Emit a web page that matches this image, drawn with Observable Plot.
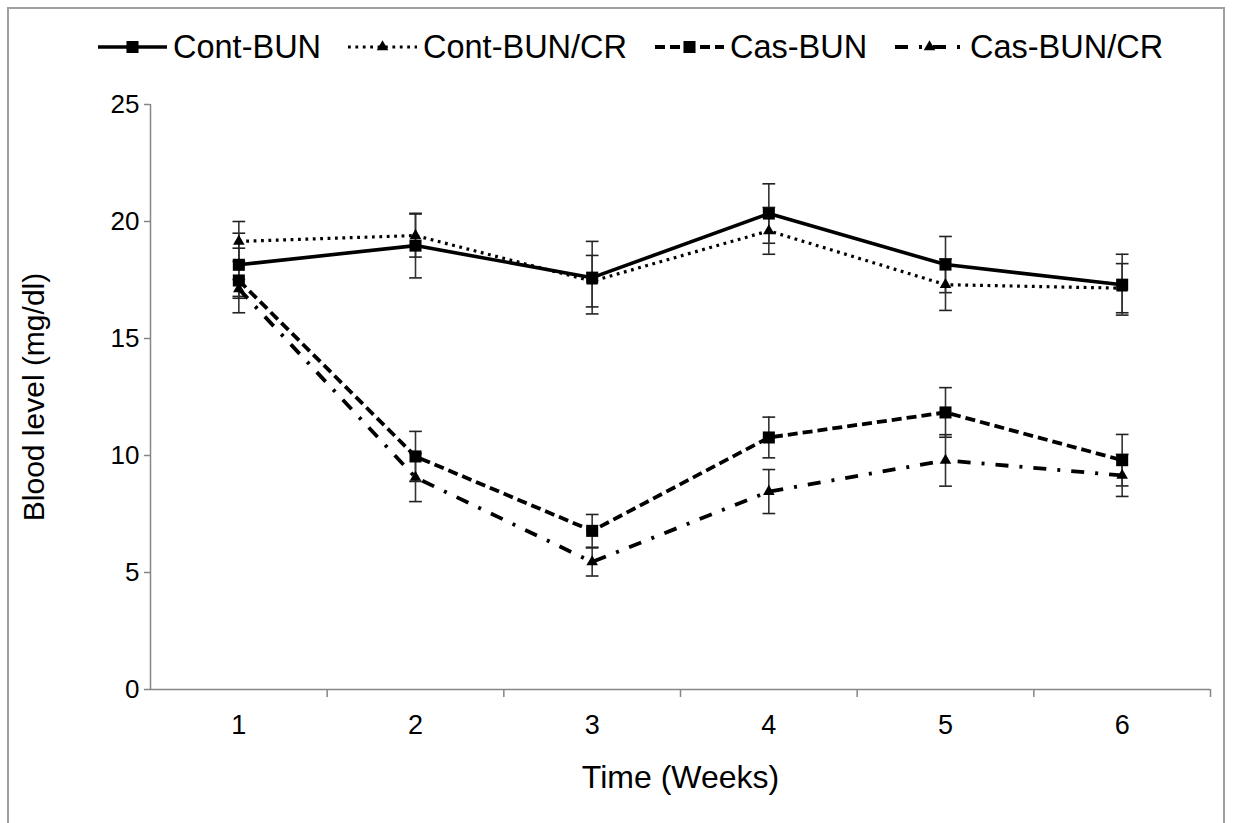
<!DOCTYPE html>
<html>
<head>
<meta charset="utf-8">
<script src="https://cdn.jsdelivr.net/npm/d3@7"></script>
<script src="https://cdn.jsdelivr.net/npm/@observablehq/plot@0.6"></script>
<style>
  html, body { margin: 0; padding: 0; background: #fff; }
  #page { position: relative; width: 1233px; height: 823px; overflow: hidden; font-family: "Liberation Sans", Arial, sans-serif; color: #000; }
  #border { position: absolute; left: 7px; top: 7px; width: 1218px; height: 840px; border: 2px solid #a0a0a0; box-sizing: border-box; }
  #legend { position: absolute; left: 0; top: 0; width: 1233px; height: 80px; }
  .item { position: absolute; top: 27px; height: 40px; display: flex; align-items: center; font-size: 32.5px; white-space: nowrap; }
  .item svg { margin-right: 6px; }
  #chart { position: absolute; left: 0; top: 75px; }
</style>
</head>
<body>
<div id="page">
  <div id="border"></div>
  <div id="legend"></div>
  <div id="chart"></div>
</div>
<script>
// Weekly blood measurements (mean ± error) for the four groups
const weeks = [1, 2, 3, 4, 5, 6];
const seriesNames = ["Cont-BUN", "Cont-BUN/CR", "Cas-BUN", "Cas-BUN/CR"];
const contBun = [18.15, 18.97, 17.6, 20.34, 18.16, 17.3];
const contBunErr = [1.35, 1.38, 1.55, 1.27, 1.2, 1.3];
const contBunCr = [19.15, 19.4, 17.45, 19.6, 17.3, 17.15];
const contBunCrErr = [0.85, 0.92, 1.1, 1.0, 1.1, 1.05];
const casBun = [17.48, 9.96, 6.78, 10.77, 11.84, 9.8];
const casBunErr = [1.38, 1.07, 0.7, 0.87, 1.06, 1.1];
const casBunCr = [17.12, 9.06, 5.45, 8.46, 9.79, 9.15];
const casBunCrErr = [0.4, 1.03, 0.6, 0.94, 1.1, 0.9];
const yTicks = [0, 5, 10, 15, 20, 25];

// Line style and marker per group
const styles = {
  "Cont-BUN":    {dash: null,           symbol: "square",   r: 6.8, width: 3.6},
  "Cont-BUN/CR": {dash: "2.8,4.6",      symbol: "triangle", r: 4.3, width: 3.2},
  "Cas-BUN":     {dash: "10,5",         symbol: "square",   r: 6.8, width: 3.8},
  "Cas-BUN/CR":  {dash: "13,11,3,11",   symbol: "triangle", r: 4.3, width: 3.8}
};

const values = [contBun, contBunCr, casBun, casBunCr];
const errors = [contBunErr, contBunCrErr, casBunErr, casBunCrErr];
const rows = seriesNames.map((name, i) =>
  weeks.map((w, j) => ({series: name, week: w, value: values[i][j], err: errors[i][j]}))
);

const capHalf = 0.036; // half cap width, in week units

const marks = [];
// error bars with caps
rows.forEach(data => {
  marks.push(Plot.ruleX(data, {x: "week", y1: d => d.value - d.err, y2: d => d.value + d.err, stroke: "#333", strokeWidth: 1.6}));
  marks.push(Plot.link(data, {x1: d => d.week - capHalf, x2: d => d.week + capHalf, y1: d => d.value + d.err, y2: d => d.value + d.err, stroke: "#222", strokeWidth: 1.6}));
  marks.push(Plot.link(data, {x1: d => d.week - capHalf, x2: d => d.week + capHalf, y1: d => d.value - d.err, y2: d => d.value - d.err, stroke: "#222", strokeWidth: 1.6}));
});
// series lines
rows.forEach(data => {
  const s = styles[data[0].series];
  marks.push(Plot.line(data, {x: "week", y: "value", stroke: "#000", strokeWidth: s.width, strokeDasharray: s.dash ?? undefined, strokeLinecap: "butt"}));
});
// markers
rows.forEach(data => {
  const s = styles[data[0].series];
  marks.push(Plot.dot(data, {x: "week", y: "value", symbol: () => s.symbol, r: s.r, fill: "#000", stroke: "none"}));
});

const chart = Plot.plot({
  width: 1233,
  height: 748,
  marginLeft: 150,
  marginRight: 23,
  marginTop: 29,
  marginBottom: 134,
  style: {fontFamily: "'Liberation Sans', Arial, sans-serif", color: "#000", background: "transparent"},
  x: {domain: [0.5, 6.5]},
  y: {domain: [0, 25]},
  symbol: {type: "identity"},
  marks: [
    ...marks,
    // axis lines
    Plot.ruleY([0], {stroke: "#868686", strokeWidth: 1.5}),
    Plot.ruleX([0.5], {stroke: "#868686", strokeWidth: 1.5}),
    // category boundary ticks
    Plot.axisX([1.5, 2.5, 3.5, 4.5, 5.5, 6.5], {tickSize: 8, tickFormat: () => "", stroke: "#868686", strokeWidth: 1.5, label: null}),
    // week labels and axis titles
    Plot.axisX(weeks, {tickSize: 0, tickPadding: 25, fontSize: 27, tickFormat: d => String(d), label: null}),
    Plot.axisX({ticks: [], label: "Time (Weeks)", labelAnchor: "center", labelArrow: "none", labelOffset: 98, fontSize: 32}),
    Plot.axisY(yTicks, {tickSize: 6, tickPadding: 5, fontSize: 26, stroke: "#868686", strokeWidth: 1.5, label: null}),
    Plot.axisY({ticks: [], label: "Blood level (mg/dl)", labelAnchor: "center", labelArrow: "none", labelOffset: 128, fontSize: 30})
  ]
});
chart.querySelectorAll("text").forEach(t => t.setAttribute("fill", "#000"));
document.getElementById("chart").appendChild(chart);

// legend row: [sample start, text start]
const legendX = [[98, 175], [348, 425], [655, 732], [895, 972]];
const legend = document.getElementById("legend");
seriesNames.forEach((name, i) => {
  const s = styles[name];
  const [x0, tx] = legendX[i];
  const w = tx - x0 - 8;
  const item = document.createElement("div");
  item.className = "item";
  item.style.left = x0 + "px";
  const svg = d3.create("svg").attr("width", w).attr("height", 20);
  svg.append("line").attr("x1", 0).attr("x2", w).attr("y1", 10).attr("y2", 10)
    .attr("stroke", "#000").attr("stroke-width", s.width)
    .attr("stroke-dasharray", s.dash);
  const sym = d3.symbol(s.symbol === "square" ? d3.symbolSquare : d3.symbolTriangle, Math.PI * s.r * s.r);
  svg.append("path").attr("d", sym()).attr("transform", `translate(${w / 2},10)`).attr("fill", "#000");
  item.appendChild(svg.node());
  const label = document.createElement("span");
  label.textContent = name;
  item.appendChild(label);
  legend.appendChild(item);
});
</script>
</body>
</html>
